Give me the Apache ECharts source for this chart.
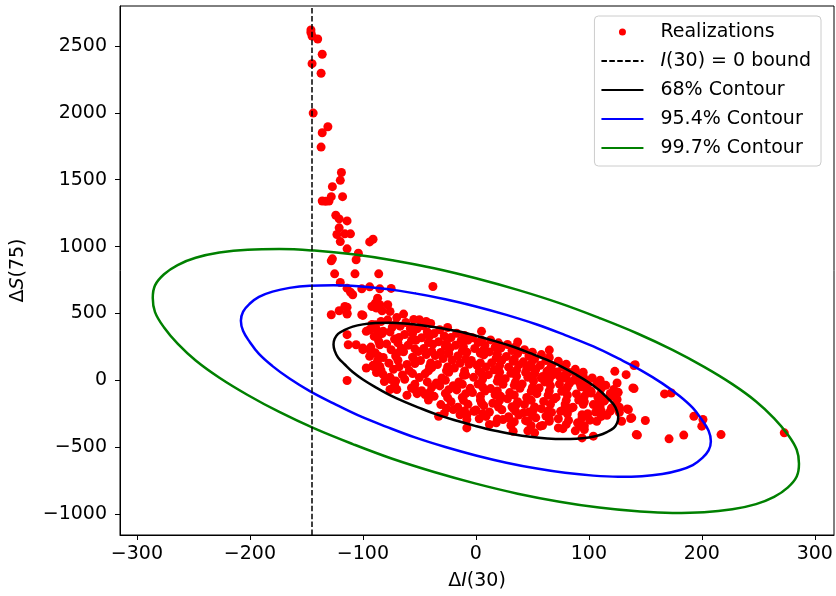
<!DOCTYPE html>
<html>
<head>
<meta charset="utf-8">
<title>Realizations and contours</title>
<script src="https://cdn.jsdelivr.net/npm/echarts@6/dist/echarts.min.js"></script>
<style>
  html, body { margin: 0; padding: 0; background: #fff; }
  #chart { width: 836px; height: 596px; }
</style>
</head>
<body>
<div id="chart"></div>
<script>
// Scatter of realizations
const realizations = [
  // upper tail near the bound
  [-146,2620],[-146,2600],[-145,2575],[-140,2552],[-136,2438],[-145,2368],[-137,2296],[-144,1998],
  [-131,1896],[-136,1851],[-137,1744],[-119,1554],[-120,1495],[-127,1448],[-118,1373],[-136,1341],
  [-130,1341],[-128,1373],[-133,1338],[-124,1234],[-121,1207],[-114,1192],[-121,1140],[-123,1090],
  [-116,1095],[-111,1095],[-120,1037],[-94,1035],[-91,1055],[-114,983],[-104,950],[-106,901],
  [-127,908],[-128,893],[-125,796],[-107,796],[-86,796],[-38,701],[-120,731],[-114,689],[-111,659],
  [-109,640],[-101,684],[-94,699],[-85,684],[-75,687],[-87,614],[-89,577],[-114,547],[-121,520],
  [-92,552],[-85,565],[-78,565],[-128,490],[-116,552],[-114,502],[-114,495],[-100,485],[-88,540],
  [-83,520],[-76,515],[-64,495],[-50,453],[-44,440],[-101,490],[-97,366],[-100,229],[-94,229],
  [-114,341],[-113,266],[-106,266],[-100,241],[-94,378],[-89,416],[-86,341],[-82,366],[-94,179],
  [-86,179],[-91,104],[-85,104],[-97,92],[-114,-2],[-82,42],[-75,5],[-70,-69],[-76,-69],[-54,-69],
  [-45,-107],[-33,-269],[-20,-219],[-8,-293],[-8,-356],[-1,-231],
  // right side and outliers
  [5,366],[37,286],[65,226],[123,67],[133,42],[141,117],[139,-57],[135,-219],[138,-281],[142,-406],
  [129,-306],[140,110],[140,-62],[167,-102],[173,-95],[193,-269],[201,-293],[200,-343],[217,-406],
  [184,-410],[171,-438],[143,-410],[150,-301],[137,-286],[134,-214],[127,-201],[124,-132],[273,-393],
  [45,92],[52,55],[58,17],[65,5],[74,30],[80,17],[89,42],[95,30],[92,-20],[99,-32],[102,-95],
  [110,-107],[113,-157],[119,-119],[122,-69],[125,-144],[126,-207],[119,-231],[111,-231],[107,-306],
  [92,-343],[96,-368],[104,-418],[94,-431],[73,-356],[65,-306],[57,-343],[52,-393],[46,-306],
  [33,-207],[29,-281],[42,-244],[-2,-231],[12,-331],[24,-293],[33,-381],
  // dense core
  [-92,418],[-88,382],[-90,328],[-86,292],[-93,248],[-89,205],[-87,148],[-91,112],[-88,58],
  [-78,452],[-74,398],[-76,362],[-72,308],[-79,272],[-75,228],[-71,182],[-77,128],[-73,82],[-76,22],[-72,-38],
  [-62,432],[-58,388],[-63,342],[-57,298],[-60,262],[-64,213],[-56,172],[-61,118],[-59,72],[-63,8],[-57,-58],[-61,-112],
  [-47,408],[-43,362],[-48,318],[-42,282],[-46,238],[-44,192],[-49,148],[-41,102],[-45,48],[-43,-12],[-48,-78],[-42,-148],
  [-32,378],[-28,332],[-33,288],[-27,252],[-31,208],[-29,162],[-34,118],[-26,72],[-30,18],[-32,-42],[-27,-98],[-31,-182],[-28,-248],
  [-17,352],[-13,298],[-18,262],[-12,218],[-16,182],[-14,128],[-19,92],[-11,38],[-15,-12],[-17,-72],[-12,-128],[-16,-202],[-14,-258],
  [-3,318],[2,282],[-1,238],[4,202],[-4,148],[1,112],[3,68],[-2,22],[2,-28],[-3,-92],[4,-148],[0,-222],[3,-288],
  [13,302],[17,248],[12,212],[18,168],[14,132],[16,78],[11,42],[19,-8],[13,-62],[17,-108],[15,-172],[12,-238],[18,-318],
  [28,268],[32,222],[27,178],[33,142],[29,98],[31,52],[26,12],[34,-38],[30,-92],[28,-138],[32,-198],[29,-272],[31,-338],
  [43,228],[47,182],[42,138],[48,102],[44,58],[46,22],[41,-28],[49,-82],[45,-128],[43,-182],[47,-238],[44,-302],[46,-378],
  [58,192],[62,148],[57,112],[63,68],[59,28],[61,-12],[56,-58],[64,-112],[60,-158],[58,-212],[62,-268],[59,-338],
  [73,142],[77,98],[72,62],[78,18],[74,-28],[76,-82],[71,-128],[79,-178],[75,-232],[73,-288],[77,-362],
  [88,82],[92,38],[87,2],[93,-48],[89,-102],[91,-148],[86,-202],[94,-258],[90,-318],[88,-378],
  [103,18],[107,-28],[102,-82],[108,-128],[104,-182],[106,-238],[101,-298],
  [115,-38],[119,-98],[114,-152],[120,-208],[116,-262],
  [-67,405],[-68,320],[-66,240],[-69,150],[-65,40],
  [-52,385],[-53,300],[-51,215],[-54,125],[-50,20],[-52,-100],
  [-37,350],[-38,270],[-36,185],[-39,95],[-35,-20],[-37,-120],
  [-22,320],[-23,240],[-21,150],[-24,60],[-20,-40],[-22,-160],
  [-7,300],[-8,210],[-6,120],[-9,40],[-5,-60],[-7,-180],[-8,-260],
  [8,260],[7,190],[9,100],[6,10],[8,-80],[7,-190],[9,-270],
  [22,240],[23,150],[21,60],[24,-30],[22,-120],[23,-220],
  [37,200],[38,115],[36,30],[39,-60],[37,-160],[38,-260],
  [52,160],[53,80],[51,-5],[54,-100],[52,-200],[53,-280],
  [67,110],[68,40],[66,-40],[69,-140],[67,-240],
  [82,60],[83,-20],[81,-110],[84,-210],[82,-300],
  [97,0],[98,-70],[96,-160],[99,-250],
  [-84,440],[-83,350],[-85,265],[-82,170],[-84,75],[-81,-10],
  [-70,470],[-71,420],[-69,280],[-70,200],[-68,100],[-71,-5],
  [-55,455],[-56,350],[-54,235],[-55,160],[-56,50],[-54,-30],
  [-40,425],[-41,330],[-39,215],[-40,130],[-42,70],[-39,-50],[-41,-90],
  [-25,395],[-26,275],[-24,200],[-25,100],[-27,0],[-24,-70],[-25,-130],[-26,-210],
  [-10,335],[-11,250],[-9,160],[-10,70],[-12,-30],[-9,-100],[-11,-150],[-10,-230],
  [5,300],[6,220],[4,130],[5,50],[6,-50],[4,-120],[5,-170],[6,-250],
  [20,280],[19,195],[21,110],[20,20],[19,-80],[21,-150],[20,-200],[19,-290],
  [35,250],[34,160],[36,75],[35,-15],[34,-110],[36,-180],[35,-230],[34,-310],
  [50,210],[49,125],[51,40],[50,-55],[49,-150],[51,-220],[50,-260],[49,-340],
  [65,170],[66,90],[64,10],[65,-80],[66,-180],[64,-230],[65,-290],
  [80,120],[79,40],[81,-50],[80,-150],[79,-200],[81,-250],[80,-330],
  [95,60],[94,-20],[96,-120],[95,-180],[94,-280],[96,-340],
  [110,0],[111,-60],[109,-160],[110,-200],[111,-270],
  [125,-20],[126,-90],[124,-180],[127,-240]
];

// I(30) = 0 bound position on the x axis
const boundX = -145;

// contour outlines (loop overlaps a little at the end)
const contour68 = [
  [0,333],[-16,366],[-33,393],[-48,412],[-63,425],[-77,430],[-89,428],[-100,418],[-109,401],[-116,377],
  [-122,347],[-125,310],[-126,268],[-125,222],[-122,171],[-116,118],[-109,62],[-100,6],[-89,-51],
  [-77,-107],[-63,-162],[-48,-213],[-33,-261],[-16,-305],[0,-343],[16,-376],[33,-403],[48,-422],
  [63,-435],[77,-440],[89,-438],[100,-428],[109,-411],[116,-387],[122,-357],[125,-320],[126,-278],
  [125,-232],[122,-181],[116,-128],[109,-72],[100,-16],[89,41],[77,97],[63,152],[48,203],[33,251],
  [16,295],[0,333],[-16,366],[-33,393]
];
const contour954 = [
  [0,552],[-27,606],[-54,650],[-79,682],[-104,703],[-126,711],[-147,707],[-165,691],[-180,663],
  [-192,624],[-200,574],[-206,514],[-208,445],[-206,368],[-200,285],[-192,197],[-180,106],[-165,13],
  [-147,-81],[-126,-173],[-104,-263],[-79,-348],[-54,-427],[-27,-499],[0,-562],[27,-616],[54,-660],
  [79,-692],[104,-713],[126,-721],[147,-717],[165,-701],[180,-673],[192,-634],[200,-584],[206,-524],
  [208,-455],[206,-378],[200,-295],[192,-207],[180,-116],[165,-23],[147,71],[126,163],[104,253],
  [79,338],[54,417],[27,489],[0,552],[-27,606],[-54,650]
];
const contour997 = [
  [0,763],[-37,838],[-74,898],[-109,942],[-143,970],[-174,982],[-202,977],[-227,955],[-248,916],
  [-264,862],[-276,793],[-284,710],[-286,615],[-284,510],[-276,395],[-264,274],[-248,148],[-227,19],
  [-202,-110],[-174,-237],[-143,-360],[-109,-477],[-74,-587],[-37,-686],[0,-773],[37,-848],[74,-908],
  [109,-952],[143,-980],[174,-992],[202,-987],[227,-965],[248,-926],[264,-872],[276,-803],[284,-720],
  [286,-625],[284,-520],[276,-405],[264,-284],[248,-158],[227,-29],[202,100],[174,227],[143,350],
  [109,467],[74,577],[37,676],[0,763],[-37,838],[-74,898]
];

const xTicks = [-300, -200, -100, 0, 100, 200, 300];
const yTicks = [-1000, -500, 0, 500, 1000, 1500, 2000, 2500];
const xRange = [-315, 317];
const yRange = [-1157, 2799];

const FONT = 'DejaVu Sans';
const minus = v => String(v).replace('-', '\u2212');

const chart = echarts.init(document.getElementById('chart'), null, { renderer: 'canvas' });

function contourSeries(name, data, color) {
  return {
    name: name,
    type: 'line',
    data: data,
    smooth: 0.4,
    symbol: 'none',
    lineStyle: { color: color, width: 2.5 },
    itemStyle: { color: color },
    z: 3
  };
}

// line entries in the legend: hide the dot ECharts puts in the middle
const lineLegendItem = name => ({ name: name, itemStyle: { color: 'rgba(0,0,0,0)', opacity: 0 } });

const option = {
  animation: false,
  backgroundColor: '#fff',
  grid: {
    left: 120, right: 2, top: 6, bottom: 61,
    show: true,
    borderColor: '#000',
    borderWidth: 1,
    containLabel: false,
    outerBoundsMode: 'none'
  },
  legend: {
    orient: 'vertical',
    right: 15,
    top: 16,
    padding: [6, 10, 8, 6],
    itemWidth: 42,
    itemHeight: 7,
    itemGap: 9,
    backgroundColor: 'rgba(255,255,255,0.8)',
    borderColor: '#cccccc',
    borderWidth: 1,
    borderRadius: 4,
    data: [
      { name: 'Realizations', icon: 'circle' },
      lineLegendItem('bound'),
      lineLegendItem('68% Contour'),
      lineLegendItem('95.4% Contour'),
      lineLegendItem('99.7% Contour')
    ],
    formatter: function (name) {
      if (name === 'bound') return '{i|I}{n|(30) = 0 bound}';
      return '{n|' + name + '}';
    },
    textStyle: {
      fontFamily: FONT,
      fontSize: 19,
      color: '#000',
      lineHeight: 20,
      padding: [0, 0, 0, 12],
      rich: {
        n: { fontFamily: FONT, fontSize: 19, color: '#000' },
        i: { fontFamily: FONT, fontSize: 19, color: '#000', fontStyle: 'italic' }
      }
    }
  },
  xAxis: {
    type: 'value',
    min: xRange[0],
    max: xRange[1],
    splitLine: { show: false },
    axisLine: { show: true, onZero: false, lineStyle: { color: '#000', width: 1 } },
    axisTick: { show: true, length: 5, lineStyle: { color: '#000' }, customValues: xTicks },
    axisLabel: {
      customValues: xTicks,
      formatter: minus,
      margin: 10,
      fontFamily: FONT,
      fontSize: 19,
      color: '#000'
    },
    name: '{n|\u0394}{i|I}{n|(30)}',
    nameLocation: 'middle',
    nameGap: 37,
    nameTextStyle: {
      rich: {
        n: { fontFamily: FONT, fontSize: 19, color: '#000' },
        i: { fontFamily: FONT, fontSize: 19, color: '#000', fontStyle: 'italic' }
      }
    }
  },
  yAxis: {
    type: 'value',
    min: yRange[0],
    max: yRange[1],
    splitLine: { show: false },
    axisLine: { show: true, onZero: false, lineStyle: { color: '#000', width: 1 } },
    axisTick: { show: true, length: 5, lineStyle: { color: '#000' }, customValues: yTicks },
    axisLabel: {
      customValues: yTicks,
      formatter: minus,
      margin: 13,
      fontFamily: FONT,
      fontSize: 19,
      color: '#000'
    },
    name: '{n|\u0394}{i|S}{n|(75)}',
    nameLocation: 'middle',
    nameRotate: 90,
    nameGap: 92,
    nameTextStyle: {
      rich: {
        n: { fontFamily: FONT, fontSize: 19, color: '#000' },
        i: { fontFamily: FONT, fontSize: 19, color: '#000', fontStyle: 'italic' }
      }
    }
  },
  series: [
    {
      name: 'Realizations',
      type: 'scatter',
      data: realizations,
      symbol: 'circle',
      symbolSize: 9,
      itemStyle: { color: '#ff0000', opacity: 1 },
      z: 2
    },
    {
      name: 'bound',
      type: 'line',
      data: [],
      symbol: 'none',
      lineStyle: { color: '#000', width: 1.5, type: [5.5, 2.4] },
      itemStyle: { color: '#000' },
      z: 4,
      markLine: {
        silent: true,
        symbol: ['none', 'none'],
        label: { show: false },
        lineStyle: { color: '#000', width: 1.5, type: [5.5, 2.4] },
        data: [{ xAxis: boundX }]
      }
    },
    contourSeries('68% Contour', contour68, '#000000'),
    contourSeries('95.4% Contour', contour954, '#0000ff'),
    contourSeries('99.7% Contour', contour997, '#008000')
  ]
};

chart.setOption(option);

window.addEventListener('resize', function () {
  chart.resize();
});
</script>
</body>
</html>
